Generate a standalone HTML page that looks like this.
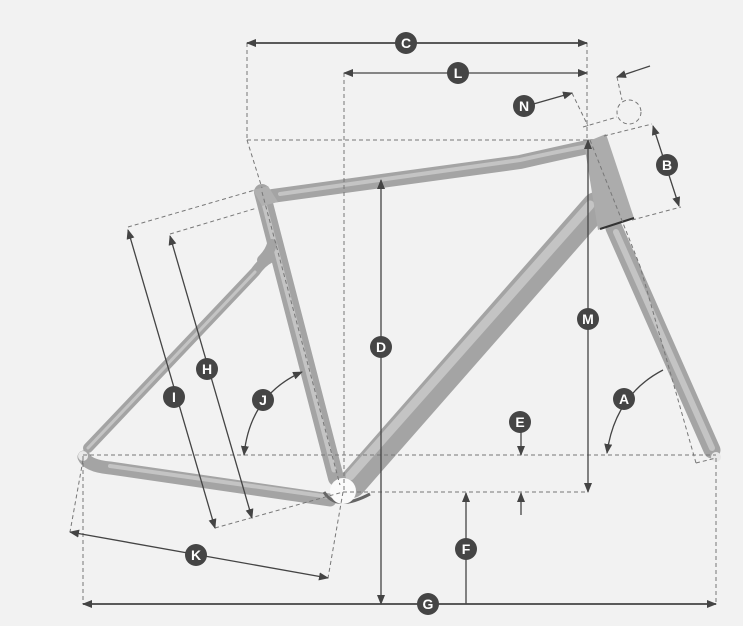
<!DOCTYPE html>
<html><head><meta charset="utf-8"><style>
html,body{margin:0;padding:0;background:#f2f2f2;}
svg{display:block}
text{font-family:"Liberation Sans",sans-serif;font-weight:bold;font-size:14px;fill:#fff;text-anchor:middle;dominant-baseline:central}
</style></head><body>
<svg width="743" height="626" viewBox="0 0 743 626" xmlns="http://www.w3.org/2000/svg">
<defs>
<marker id="a" markerWidth="10" markerHeight="8" refX="9" refY="4" orient="auto" markerUnits="userSpaceOnUse"><path d="M0,0 L10,4 L0,8 Z" fill="#444"/></marker>
<marker id="s" markerWidth="10" markerHeight="8" refX="1" refY="4" orient="auto" markerUnits="userSpaceOnUse"><path d="M10,0 L0,4 L10,8 Z" fill="#444"/></marker>
</defs>
<rect width="743" height="626" fill="#f2f2f2"/>

<!-- frame -->
<g fill="none" stroke-linecap="round">
<g stroke="#a4a4a4">
<path d="M270,258 Q262,262 255,272 L88,448" stroke-width="10"/>
<path d="M84,457 Q88,466 110,468 L330,500" stroke-width="13"/>
<line x1="262" y1="192" x2="336" y2="478" stroke-width="16"/>
<path d="M272,196 L520,162 Q555,154 592,146" stroke-width="14"/>
<line x1="596" y1="206" x2="352" y2="484" stroke-width="28"/>
<path d="M614,228 L712,450" stroke-width="17"/>
</g>
<g stroke="#c4c4c4">
<path d="M255,272 L88,448" stroke-width="3"/>
<path d="M110,466 L330,497" stroke-width="4"/>
<line x1="262" y1="196" x2="334" y2="470" stroke-width="5"/>
<path d="M280,194 L520,160 Q555,152 588,146" stroke-width="4"/>
<line x1="590" y1="205" x2="350" y2="476" stroke-width="9"/>
<path d="M616,232 L712,448" stroke-width="6"/>
</g>
<path d="M262,260 Q270,252 272,244" stroke="#a4a4a4" stroke-width="10"/>
</g>
<polygon points="584,143 606,134 634,218 598,230" fill="#acacac"/>
<line x1="600" y1="229" x2="634" y2="218" stroke="#333" stroke-width="2"/>
<polygon points="253,190 268,186 278,202 262,206" fill="#b0b0b0"/>
<path d="M324,492 Q336,512 370,494" stroke="#666" stroke-width="3" fill="none"/>
<circle cx="343" cy="491" r="13" fill="#fafafa"/>
<circle cx="83" cy="456" r="5" fill="#e8e8e8"/>
<circle cx="716" cy="457" r="5" fill="#e8e8e8"/>

<!-- dashed lines -->
<g stroke="#777" stroke-width="1" stroke-dasharray="4,3" fill="none">
<line x1="247" y1="43" x2="247" y2="140"/>
<line x1="247" y1="140" x2="262" y2="188"/>
<line x1="247" y1="140" x2="590" y2="140"/>
<line x1="344" y1="73" x2="344" y2="492"/>
<line x1="587" y1="43" x2="587" y2="140"/>
<line x1="572" y1="93" x2="588" y2="126"/>
<line x1="583" y1="127" x2="617" y2="117"/>
<line x1="617" y1="77" x2="622" y2="100"/>
<circle cx="629" cy="112" r="12"/>
<line x1="604" y1="136" x2="652" y2="124"/>
<line x1="632" y1="220" x2="681" y2="207"/>
<line x1="590" y1="140" x2="640" y2="266"/>
<line x1="83" y1="455" x2="716" y2="455"/>
<line x1="343" y1="492" x2="588" y2="492"/>
<line x1="83" y1="456" x2="83" y2="604"/>
<line x1="716" y1="458" x2="716" y2="604"/>
<line x1="696" y1="463" x2="716" y2="458"/>
<line x1="696" y1="463" x2="640" y2="266"/>
<line x1="83" y1="460" x2="70" y2="532"/>
<line x1="343" y1="492" x2="328" y2="578"/>
<line x1="215" y1="528" x2="343" y2="492"/>
<line x1="128" y1="227" x2="255" y2="190"/>
<line x1="170" y1="234" x2="257" y2="208"/>
<line x1="262" y1="192" x2="340" y2="485"/>
</g>

<!-- dimension lines -->
<g stroke="#444" stroke-width="1.3" fill="none">
<line x1="247" y1="43" x2="587" y2="43" marker-start="url(#s)" marker-end="url(#a)" stroke-width="1.8"/>
<line x1="344" y1="73" x2="587" y2="73" marker-start="url(#s)" marker-end="url(#a)"/>
<line x1="530" y1="105" x2="572" y2="93" marker-end="url(#a)"/>
<line x1="650" y1="66" x2="617" y2="77" marker-end="url(#a)"/>
<line x1="653" y1="126" x2="679" y2="206" marker-start="url(#s)" marker-end="url(#a)"/>
<line x1="381" y1="180" x2="381" y2="604" marker-start="url(#s)" marker-end="url(#a)"/>
<line x1="588" y1="140" x2="588" y2="492" marker-start="url(#s)" marker-end="url(#a)"/>
<path d="M663,370 Q615,395 607,453" marker-end="url(#a)"/>
<path d="M302,372 Q250,395 244,455" marker-start="url(#s)" marker-end="url(#a)"/>
<line x1="521" y1="430" x2="521" y2="455" marker-end="url(#a)"/>
<line x1="521" y1="515" x2="521" y2="493" marker-end="url(#a)"/>
<line x1="466" y1="604" x2="466" y2="493" marker-end="url(#a)"/>
<line x1="83" y1="604" x2="716" y2="604" marker-start="url(#s)" marker-end="url(#a)" stroke-width="1.8"/>
<line x1="70" y1="532" x2="328" y2="578" marker-start="url(#s)" marker-end="url(#a)"/>
<line x1="128" y1="230" x2="215" y2="528" marker-start="url(#s)" marker-end="url(#a)"/>
<line x1="170" y1="236" x2="252" y2="518" marker-start="url(#s)" marker-end="url(#a)"/>
</g>

<!-- labels -->
<g fill="#454545">
<circle cx="406" cy="43" r="11"/><circle cx="458" cy="73" r="11"/>
<circle cx="524" cy="106" r="11"/><circle cx="667" cy="165" r="11"/>
<circle cx="381" cy="347" r="11"/><circle cx="588" cy="319" r="11"/>
<circle cx="624" cy="399" r="11"/><circle cx="520" cy="422" r="11"/>
<circle cx="466" cy="549" r="11"/><circle cx="428" cy="604" r="11"/>
<circle cx="196" cy="555" r="11"/><circle cx="174" cy="397" r="11"/>
<circle cx="207" cy="369" r="11"/><circle cx="263" cy="400" r="11"/>
</g>
<text x="406" y="43">C</text><text x="458" y="73">L</text>
<text x="524" y="106">N</text><text x="667" y="165">B</text>
<text x="381" y="347">D</text><text x="588" y="319">M</text>
<text x="624" y="399">A</text><text x="520" y="422">E</text>
<text x="466" y="549">F</text><text x="428" y="604">G</text>
<text x="196" y="555">K</text><text x="174" y="397">I</text>
<text x="207" y="369">H</text><text x="263" y="400">J</text>
</svg>
</body></html>
